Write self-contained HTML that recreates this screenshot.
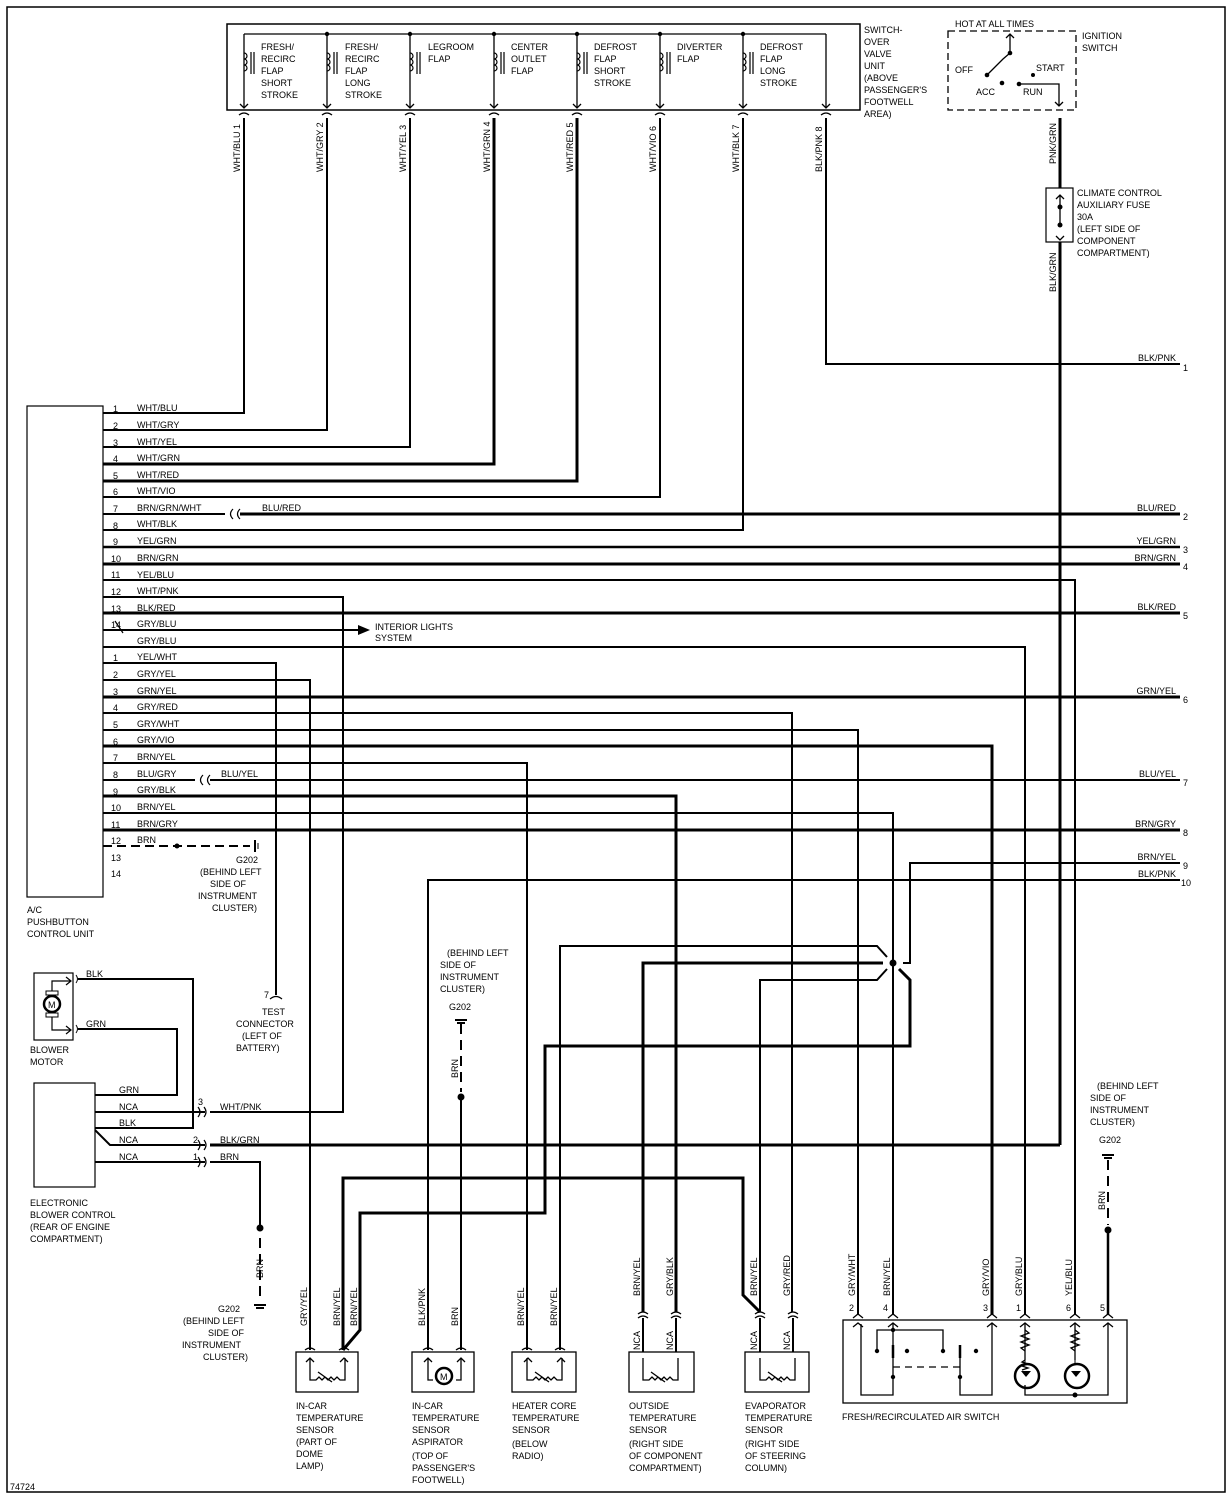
<!DOCTYPE html>
<html><head><meta charset="utf-8"><style>
html,body{margin:0;padding:0;background:#fff}
svg{display:block}
text{font-family:"Liberation Sans",sans-serif;font-size:9px;fill:#000}
</style></head><body>
<svg width="1232" height="1497" viewBox="0 0 1232 1497" xmlns="http://www.w3.org/2000/svg">
<rect x="7" y="7" width="1218" height="1485" fill="none" stroke="#000" stroke-width="1.5"/>
<text x="10" y="1490" font-size="8">74724</text>

<!-- Switch-over valve unit -->
<rect x="227" y="24" width="633" height="86" fill="none" stroke="#000" stroke-width="1.5"/>
<line x1="244" y1="34" x2="826" y2="34" stroke="#000" stroke-width="1.3"/>
<g fill="#000">
<circle cx="327" cy="34" r="2.2"/><circle cx="410" cy="34" r="2.2"/><circle cx="494" cy="34" r="2.2"/><circle cx="577" cy="34" r="2.2"/><circle cx="660" cy="34" r="2.2"/><circle cx="743" cy="34" r="2.2"/>
</g>
<g stroke="#000" stroke-width="1.3" fill="none">
<path d="M244 34V108M327 34V108M410 34V108M494 34V108M577 34V108M660 34V108M743 34V108M826 34V108"/>
<path d="M240 104l4 4 4-4M323 104l4 4 4-4M406 104l4 4 4-4M490 104l4 4 4-4M573 104l4 4 4-4M656 104l4 4 4-4M739 104l4 4 4-4M822 104l4 4 4-4"/>
<path d="M239 115q5-4 10 0M322 115q5-4 10 0M405 115q5-4 10 0M489 115q5-4 10 0M572 115q5-4 10 0M655 115q5-4 10 0M738 115q5-4 10 0M821 115q5-4 10 0"/>
</g>
<!-- coils -->
<g stroke="#000" stroke-width="1.2" fill="none">
<path id="coil" d="M244 53a3 3 0 0 1 0 6a3 3 0 0 1 0 6a3 3 0 0 1 0 6M251 52v22M254 52v22"/>
<use href="#coil" x="83"/><use href="#coil" x="166"/><use href="#coil" x="250"/><use href="#coil" x="333"/><use href="#coil" x="416"/><use href="#coil" x="499"/>
</g>
<g font-size="8.5">
<text x="261" y="50">FRESH/</text><text x="261" y="62">RECIRC</text><text x="261" y="74">FLAP</text><text x="261" y="86">SHORT</text><text x="261" y="98">STROKE</text>
<text x="345" y="50">FRESH/</text><text x="345" y="62">RECIRC</text><text x="345" y="74">FLAP</text><text x="345" y="86">LONG</text><text x="345" y="98">STROKE</text>
<text x="428" y="50">LEGROOM</text><text x="428" y="62">FLAP</text>
<text x="511" y="50">CENTER</text><text x="511" y="62">OUTLET</text><text x="511" y="74">FLAP</text>
<text x="594" y="50">DEFROST</text><text x="594" y="62">FLAP</text><text x="594" y="74">SHORT</text><text x="594" y="86">STROKE</text>
<text x="677" y="50">DIVERTER</text><text x="677" y="62">FLAP</text>
<text x="760" y="50">DEFROST</text><text x="760" y="62">FLAP</text><text x="760" y="74">LONG</text><text x="760" y="86">STROKE</text>
<text x="864" y="33">SWITCH-</text><text x="864" y="45">OVER</text><text x="864" y="57">VALVE</text><text x="864" y="69">UNIT</text><text x="864" y="81">(ABOVE</text><text x="864" y="93">PASSENGER'S</text><text x="864" y="105">FOOTWELL</text><text x="864" y="117">AREA)</text>
</g>
<!-- vertical labels top -->
<g font-size="8.5">
<text transform="translate(240,172) rotate(-90)">WHT/BLU   1</text>
<text transform="translate(323,172) rotate(-90)">WHT/GRY  2</text>
<text transform="translate(406,172) rotate(-90)">WHT/YEL   3</text>
<text transform="translate(490,172) rotate(-90)">WHT/GRN   4</text>
<text transform="translate(573,172) rotate(-90)">WHT/RED   5</text>
<text transform="translate(656,172) rotate(-90)">WHT/VIO   6</text>
<text transform="translate(739,172) rotate(-90)">WHT/BLK   7</text>
<text transform="translate(822,172) rotate(-90)">BLK/PNK   8</text>
</g>

<!-- Ignition switch -->
<rect x="948" y="31" width="128" height="79" fill="none" stroke="#000" stroke-width="1.3" stroke-dasharray="7,4"/>
<text x="955" y="27" font-size="8.5">HOT AT ALL TIMES</text>
<text x="1082" y="39" font-size="8.5">IGNITION</text><text x="1082" y="51" font-size="8.5">SWITCH</text>
<text x="955" y="73" font-size="8.5">OFF</text><text x="1036" y="71" font-size="8.5">START</text>
<text x="976" y="95" font-size="8.5">ACC</text><text x="1023" y="95" font-size="8.5">RUN</text>
<g stroke="#000" stroke-width="1.3" fill="none"><path d="M1010 53V34M1006 38l4-4 4 4M987 75l16-16 7-6M1019 84h40v22M1055 102l4 4 4-4"/></g>
<g fill="#000"><circle cx="1010" cy="53" r="2.3"/><circle cx="987" cy="75" r="2.3"/><circle cx="1002" cy="83" r="2.3"/><circle cx="1019" cy="84" r="2.3"/><circle cx="1033" cy="75" r="2"/></g>
<path d="M1060 118V188M1060 242V1145" stroke="#000" stroke-width="3"/>
<rect x="1046" y="188" width="27" height="54" fill="none" stroke="#000" stroke-width="1.2"/>
<path d="M1060 195v30M1056 199l4-4 4 4M1056 236l4 4 4-4" stroke="#000" stroke-width="1.3" fill="none"/>
<circle cx="1060" cy="207" r="2.5"/><circle cx="1060" cy="225" r="2.5"/>
<text transform="translate(1056,164) rotate(-90)" font-size="8.5">PNK/GRN</text>
<text transform="translate(1056,292) rotate(-90)" font-size="8.5">BLK/GRN</text>
<g font-size="8.5"><text x="1077" y="196">CLIMATE CONTROL</text><text x="1077" y="208">AUXILIARY FUSE</text><text x="1077" y="220">30A</text><text x="1077" y="232">(LEFT SIDE OF</text><text x="1077" y="244">COMPONENT</text><text x="1077" y="256">COMPARTMENT)</text></g>

<!-- top-down wires -->
<g stroke="#000" fill="none" stroke-width="2">
<path d="M244 118V413H103"/>
<path d="M327 118V430H103"/>
<path d="M410 118V447H103"/>
<path d="M494 118V464H103" stroke-width="3"/>
<path d="M577 118V481H103" stroke-width="3"/>
<path d="M660 118V497H103"/>
<path d="M743 118V530H103"/>
<path d="M826 118V364H1180"/>
</g>
<text x="1138" y="361" font-size="8.5">BLK/PNK</text><text x="1183" y="371" font-size="8">1</text>

<!-- Control unit -->
<rect x="27" y="406" width="76" height="491" fill="none" stroke="#000" stroke-width="1.2"/>
<g font-size="8.5"><text x="27" y="913">A/C</text><text x="27" y="925">PUSHBUTTON</text><text x="27" y="937">CONTROL UNIT</text></g>

<g stroke="#000" fill="none" stroke-width="2">
<path d="M103 514H225"/><path d="M240 514H1180" stroke-width="3"/>
<path d="M103 547H1180" stroke-width="2.5"/>
<path d="M103 564H1180" stroke-width="3"/>
<path d="M103 580H1075V1315"/>
<path d="M103 597H343V1112H210"/>
<path d="M103 613H1180" stroke-width="3"/>
<path d="M103 630H358"/>
<path d="M103 647H1025V1315"/>
<path d="M103 663H276V995"/>
<path d="M103 680H310V1350"/>
<path d="M103 697H1180" stroke-width="3"/>
<path d="M103 713H792V1312"/>
<path d="M103 730H858V1315"/>
<path d="M103 746H992V1315" stroke-width="3"/>
<path d="M103 763H527V1350"/>
<path d="M103 780H195"/><path d="M210 780H1180"/>
<path d="M103 796H676V1312" stroke-width="3"/>
<path d="M103 813H893V1315"/>
<path d="M103 830H1180" stroke-width="3"/>
<path d="M103 846H250" stroke-dasharray="9,5"/>
<path d="M1180 863H910V963H903"/>
<path d="M1180 880H428V1350"/>
<path d="M560 1350V946H877L887 957"/>
<path d="M643 1312V963H883" stroke-width="3"/>
<path d="M760 1312V980H877L887 969"/>
<path d="M899 969L910 980V1046H545V1213H360V1330L343 1350" stroke-width="3"/>
<path d="M343 1350V1178H743V1295L760 1312" stroke-width="3"/>
<path d="M210 1145H1060" stroke-width="3"/>
</g>
<circle cx="893" cy="963" r="3.5"/>
<path d="M358 625l12 5-12 5z"/>
<g font-size="8.5"><text x="375" y="630">INTERIOR LIGHTS</text><text x="375" y="641">SYSTEM</text></g>
<path d="M233 509q-5 5 0 10M240 509q-5 5 0 10M203 775q-5 5 0 10M210 775q-5 5 0 10" stroke="#000" fill="none" stroke-width="1.2"/>
<path d="M115 621l8 12" stroke="#000" stroke-width="1.2"/>
<circle cx="177" cy="846" r="2.5"/>
<path d="M255 840v12" stroke="#000" stroke-width="2"/><path d="M258 843v6" stroke="#000"/>
<g font-size="8.5"><text x="236" y="863">G202</text><text x="200" y="875">(BEHIND LEFT</text><text x="210" y="887">SIDE OF</text><text x="198" y="899">INSTRUMENT</text><text x="212" y="911">CLUSTER)</text></g>

<!-- pin labels -->
<g font-size="8">
<text x="113" y="412">1</text><text x="113" y="429">2</text><text x="113" y="446">3</text><text x="113" y="462">4</text><text x="113" y="479">5</text><text x="113" y="495">6</text><text x="113" y="512">7</text><text x="113" y="529">8</text><text x="113" y="545">9</text><text x="111" y="562">10</text><text x="111" y="578">11</text><text x="111" y="595">12</text><text x="111" y="612">13</text><text x="111" y="628">14</text>
<text x="113" y="661">1</text><text x="113" y="678">2</text><text x="113" y="695">3</text><text x="113" y="711">4</text><text x="113" y="728">5</text><text x="113" y="745">6</text><text x="113" y="761">7</text><text x="113" y="778">8</text><text x="113" y="795">9</text><text x="111" y="811">10</text><text x="111" y="828">11</text><text x="111" y="844">12</text><text x="111" y="861">13</text><text x="111" y="877">14</text>
</g>
<g font-size="8.5">
<text x="137" y="411">WHT/BLU</text><text x="137" y="428">WHT/GRY</text><text x="137" y="445">WHT/YEL</text><text x="137" y="461">WHT/GRN</text><text x="137" y="478">WHT/RED</text><text x="137" y="494">WHT/VIO</text><text x="137" y="511">BRN/GRN/WHT</text><text x="262" y="511">BLU/RED</text><text x="137" y="527">WHT/BLK</text><text x="137" y="544">YEL/GRN</text><text x="137" y="561">BRN/GRN</text><text x="137" y="578">YEL/BLU</text><text x="137" y="594">WHT/PNK</text><text x="137" y="611">BLK/RED</text><text x="137" y="627">GRY/BLU</text><text x="137" y="644">GRY/BLU</text>
<text x="137" y="660">YEL/WHT</text><text x="137" y="677">GRY/YEL</text><text x="137" y="694">GRN/YEL</text><text x="137" y="710">GRY/RED</text><text x="137" y="727">GRY/WHT</text><text x="137" y="743">GRY/VIO</text><text x="137" y="760">BRN/YEL</text><text x="137" y="777">BLU/GRY</text><text x="221" y="777">BLU/YEL</text><text x="137" y="793">GRY/BLK</text><text x="137" y="810">BRN/YEL</text><text x="137" y="827">BRN/GRY</text><text x="137" y="843">BRN</text>
</g>
<!-- right labels -->
<g font-size="8.5" text-anchor="end">
<text x="1176" y="511">BLU/RED</text><text x="1176" y="544">YEL/GRN</text><text x="1176" y="561">BRN/GRN</text><text x="1176" y="610">BLK/RED</text><text x="1176" y="694">GRN/YEL</text><text x="1176" y="777">BLU/YEL</text><text x="1176" y="827">BRN/GRY</text><text x="1176" y="860">BRN/YEL</text><text x="1176" y="877">BLK/PNK</text>
</g>
<g font-size="8"><text x="1183" y="520">2</text><text x="1183" y="553">3</text><text x="1183" y="570">4</text><text x="1183" y="619">5</text><text x="1183" y="703">6</text><text x="1183" y="786">7</text><text x="1183" y="836">8</text><text x="1183" y="869">9</text><text x="1181" y="886">10</text></g>

<!-- test connector -->
<path d="M270 999q6-5 12 0" stroke="#000" fill="none" stroke-width="1.2"/>
<g font-size="8.5"><text x="264" y="998">7</text><text x="262" y="1015">TEST</text><text x="236" y="1027">CONNECTOR</text><text x="242" y="1039">(LEFT OF</text><text x="236" y="1051">BATTERY)</text></g>

<!-- Blower -->
<rect x="34" y="973" width="39" height="67" fill="none" stroke="#000" stroke-width="1.2"/>
<circle cx="52" cy="1004" r="8" fill="none" stroke="#000" stroke-width="2.5"/>
<text x="48" y="1008" font-size="9">M</text>
<path d="M46 991h12v4H46zM46 1013h12v4H46z" fill="none" stroke="#000"/>
<path d="M52 991V981h19M52 1017V1030h19M66 977l5 4-5 4M66 1026l5 4-5 4" stroke="#000" fill="none" stroke-width="1.2"/>
<path d="M78 979H193V1128H95M78 1029H177V1095H95" stroke="#000" stroke-width="2" fill="none"/>
<path d="M76 975q3 4 0 8M76 1025q3 4 0 8" stroke="#000" fill="none"/>
<g font-size="8.5"><text x="86" y="977">BLK</text><text x="86" y="1027">GRN</text><text x="30" y="1053">BLOWER</text><text x="30" y="1065">MOTOR</text></g>
<rect x="34" y="1083" width="61" height="104" fill="none" stroke="#000" stroke-width="1.2"/>
<path d="M95 1112H205M95 1130L110 1145H205M95 1162H205M210 1162H260V1228" stroke="#000" stroke-width="2" fill="none"/>
<path d="M260 1238V1300" stroke="#000" stroke-width="2" stroke-dasharray="10,6"/>
<circle cx="260" cy="1228" r="3.5"/><path d="M254 1305h12M256 1308h8" stroke="#000" stroke-width="2"/>
<path d="M198 1107q4 5 0 10M204 1107q4 5 0 10M198 1140q4 5 0 10M204 1140q4 5 0 10M198 1157q4 5 0 10M204 1157q4 5 0 10" stroke="#000" fill="none" stroke-width="1.2"/>
<g font-size="8.5"><text x="119" y="1093">GRN</text><text x="119" y="1110">NCA</text><text x="119" y="1126">BLK</text><text x="119" y="1143">NCA</text><text x="119" y="1160">NCA</text><text x="198" y="1105" font-size="7">3</text><text x="193" y="1143">2</text><text x="193" y="1160">1</text><text x="220" y="1110">WHT/PNK</text><text x="220" y="1143">BLK/GRN</text><text x="220" y="1160">BRN</text>
<text x="30" y="1206">ELECTRONIC</text><text x="30" y="1218">BLOWER CONTROL</text><text x="30" y="1230">(REAR OF ENGINE</text><text x="30" y="1242">COMPARTMENT)</text>
<text x="218" y="1312">G202</text><text x="183" y="1324">(BEHIND LEFT</text><text x="208" y="1336">SIDE OF</text><text x="182" y="1348">INSTRUMENT</text><text x="203" y="1360">CLUSTER)</text></g>
<text transform="translate(263,1278) rotate(-90)" font-size="8.5">BRN</text>

<!-- G202 middle -->
<path d="M455 1020h12M457 1023h8" stroke="#000" stroke-width="2"/>
<path d="M461 1024V1092" stroke="#000" stroke-width="2" stroke-dasharray="10,6"/>
<circle cx="461" cy="1097" r="3.5"/><path d="M461 1097V1350" stroke="#000" stroke-width="2"/>
<text transform="translate(458,1078) rotate(-90)" font-size="8.5">BRN</text>
<g font-size="8.5"><text x="447" y="956">(BEHIND LEFT</text><text x="440" y="968">SIDE OF</text><text x="440" y="980">INSTRUMENT</text><text x="440" y="992">CLUSTER)</text><text x="449" y="1010">G202</text></g>

<!-- G202 right -->
<path d="M1102 1155h12M1104 1158h8" stroke="#000" stroke-width="2"/>
<path d="M1108 1160V1225" stroke="#000" stroke-width="2" stroke-dasharray="10,6"/>
<circle cx="1108" cy="1230" r="3.5"/><path d="M1108 1230V1315" stroke="#000" stroke-width="2.5"/>
<text transform="translate(1105,1210) rotate(-90)" font-size="8.5">BRN</text>
<g font-size="8.5"><text x="1097" y="1089">(BEHIND LEFT</text><text x="1090" y="1101">SIDE OF</text><text x="1090" y="1113">INSTRUMENT</text><text x="1090" y="1125">CLUSTER)</text><text x="1099" y="1143">G202</text></g>

<!-- sensors -->
<g stroke="#000" fill="none" stroke-width="1.3">
<rect x="296" y="1352" width="62" height="40"/><rect x="412" y="1352" width="62" height="40"/><rect x="512" y="1352" width="64" height="40"/><rect x="629" y="1352" width="65" height="40"/><rect x="745" y="1352" width="64" height="40"/>
<path id="res" d="M310 1358v22h6l3-3 3 3 3-3 3 3 3-3 3 3 3-3 3 3h5v-22M318 1372l14 10"/>
<use href="#res" x="217"/><use href="#res" x="333"/><use href="#res" x="450"/>
<path d="M306 1362l4-4 4 4M340 1362l4-4 4 4M524 1362l4-4 4 4M557 1362l4-4 4 4M424 1362l4-4 4 4M457 1362l4-4 4 4"/>
<path d="M305 1350q5-4 10 0M339 1350q5-4 10 0M423 1350q5-4 10 0M456 1350q5-4 10 0M522 1350q5-4 10 0M555 1350q5-4 10 0"/>
<path d="M638 1314q5-4 10 0M638 1318q5-4 10 0M671 1314q5-4 10 0M671 1318q5-4 10 0M755 1314q5-4 10 0M755 1318q5-4 10 0M788 1314q5-4 10 0M788 1318q5-4 10 0"/>
<path d="M428 1358v22h5M461 1358v22h-5"/>
</g>
<g stroke="#000" stroke-width="2"><path d="M643 1318V1352M676 1318V1352M760 1318V1352M793 1318V1352"/></g>
<circle cx="444" cy="1376" r="8" fill="none" stroke="#000" stroke-width="2.5"/><text x="440" y="1380" font-size="9">M</text>
<g font-size="8.5">
<text transform="translate(307,1326) rotate(-90)">GRY/YEL</text><text transform="translate(340,1326) rotate(-90)">BRN/YEL</text><text transform="translate(357,1326) rotate(-90)">BRN/YEL</text>
<text transform="translate(425,1326) rotate(-90)">BLK/PNK</text><text transform="translate(458,1326) rotate(-90)">BRN</text>
<text transform="translate(524,1326) rotate(-90)">BRN/YEL</text><text transform="translate(557,1326) rotate(-90)">BRN/YEL</text>
<text transform="translate(640,1296) rotate(-90)">BRN/YEL</text><text transform="translate(673,1296) rotate(-90)">GRY/BLK</text>
<text transform="translate(757,1296) rotate(-90)">BRN/YEL</text><text transform="translate(790,1296) rotate(-90)">GRY/RED</text>
<text transform="translate(640,1350) rotate(-90)">NCA</text><text transform="translate(673,1350) rotate(-90)">NCA</text><text transform="translate(757,1350) rotate(-90)">NCA</text><text transform="translate(790,1350) rotate(-90)">NCA</text>
<text x="296" y="1409">IN-CAR</text><text x="296" y="1421">TEMPERATURE</text><text x="296" y="1433">SENSOR</text><text x="296" y="1445">(PART OF</text><text x="296" y="1457">DOME</text><text x="296" y="1469">LAMP)</text>
<text x="412" y="1409">IN-CAR</text><text x="412" y="1421">TEMPERATURE</text><text x="412" y="1433">SENSOR</text><text x="412" y="1445">ASPIRATOR</text><text x="412" y="1459">(TOP OF</text><text x="412" y="1471">PASSENGER'S</text><text x="412" y="1483">FOOTWELL)</text>
<text x="512" y="1409">HEATER CORE</text><text x="512" y="1421">TEMPERATURE</text><text x="512" y="1433">SENSOR</text><text x="512" y="1447">(BELOW</text><text x="512" y="1459">RADIO)</text>
<text x="629" y="1409">OUTSIDE</text><text x="629" y="1421">TEMPERATURE</text><text x="629" y="1433">SENSOR</text><text x="629" y="1447">(RIGHT SIDE</text><text x="629" y="1459">OF COMPONENT</text><text x="629" y="1471">COMPARTMENT)</text>
<text x="745" y="1409">EVAPORATOR</text><text x="745" y="1421">TEMPERATURE</text><text x="745" y="1433">SENSOR</text><text x="745" y="1447">(RIGHT SIDE</text><text x="745" y="1459">OF STEERING</text><text x="745" y="1471">COLUMN)</text>
</g>

<!-- Fresh/recirc switch -->
<rect x="843" y="1320" width="284" height="83" fill="none" stroke="#000" stroke-width="1.3"/>
<text x="842" y="1420" font-size="8.5">FRESH/RECIRCULATED AIR SWITCH</text>
<g font-size="8.5">
<text transform="translate(855,1296) rotate(-90)">GRY/WHT</text><text transform="translate(890,1296) rotate(-90)">BRN/YEL</text><text transform="translate(989,1296) rotate(-90)">GRY/VIO</text><text transform="translate(1022,1296) rotate(-90)">GRY/BLU</text><text transform="translate(1072,1296) rotate(-90)">YEL/BLU</text>
<text x="849" y="1311">2</text><text x="883" y="1311">4</text><text x="983" y="1311">3</text><text x="1016" y="1311">1</text><text x="1066" y="1311">6</text><text x="1100" y="1311">5</text>
</g>
<g stroke="#000" fill="none" stroke-width="1.3">
<path d="M853 1318l5-4 5 4M888 1318l5-4 5 4M987 1318l5-4 5 4M1020 1318l5-4 5 4M1070 1318l5-4 5 4M1103 1318l5-4 5 4"/>
<path d="M853 1327l5-4 5 4M888 1327l5-4 5 4M987 1327l5-4 5 4M1020 1327l5-4 5 4M1070 1327l5-4 5 4M1103 1327l5-4 5 4"/>
<path d="M861 1324V1395H893V1377M893 1324V1350M893 1330H877V1351M893 1330H943V1351M893 1356V1377M960 1356V1395H992V1324M960 1377V1350"/>
<path d="M893 1367H960" stroke-dasharray="7,5"/>
<path d="M1025 1324V1360M1075 1324V1360M1025 1360l-3 2 6 2-6 2 6 2-6 2M1108 1324V1395H1025V1385"/>
<path d="M1025 1330l4 3-8 3 8 3-8 3 8 3-8 3 4 3M1075 1330l4 3-8 3 8 3-8 3 8 3-8 3 4 3"/>
</g>
<g stroke="#000" stroke-width="2.5">
<path d="M893 1345V1358M960 1345V1358"/>
</g>
<g fill="#000"><circle cx="893" cy="1330" r="2.2"/><circle cx="877" cy="1351" r="2.2"/><circle cx="907" cy="1351" r="2.2"/><circle cx="943" cy="1351" r="2.2"/><circle cx="976" cy="1351" r="2.2"/><circle cx="893" cy="1377" r="2.2"/><circle cx="960" cy="1377" r="2.2"/><circle cx="1075" cy="1395" r="2.5"/></g>
<g stroke="#000" fill="none" stroke-width="2.5"><circle cx="1027" cy="1376" r="12"/><circle cx="1077" cy="1376" r="12"/></g>
<path d="M1021 1371h10l-5 6zM1071 1371h10l-5 6z" fill="#000"/>
<path d="M1075 1360v5M1025 1365v-5" stroke="#000"/>
<g stroke="#000" stroke-width="2" fill="none"><path d="M1060 1145V1140"/></g>
</svg>
</body></html>
